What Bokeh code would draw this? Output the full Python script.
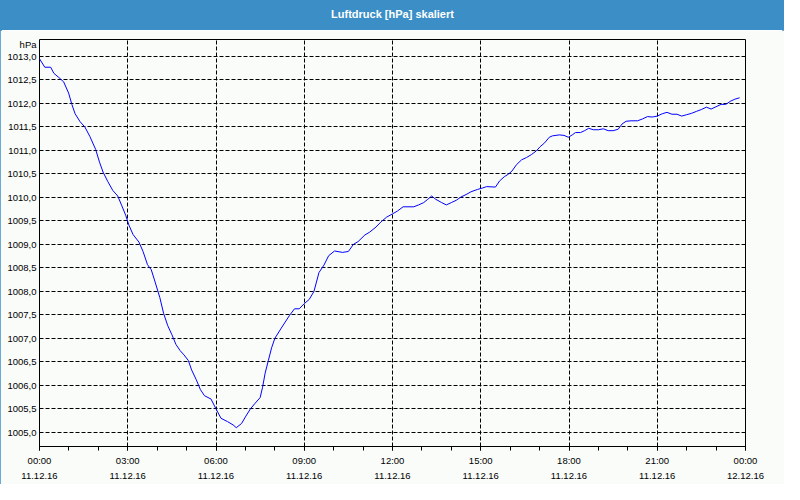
from bokeh.plotting import figure
from bokeh.layouts import column
from bokeh.models import Range1d, FixedTicker, CustomJSTickFormatter
from bokeh.core.properties import value
from bokeh.embed import file_html
from bokeh.resources import INLINE

title_text = "Luftdruck [hPa] skaliert"
unit_label = "hPa"

# time of day in hours (11.12.16 00:00 = 0)
hours = [0.00, 0.18, 0.38, 0.49, 0.66, 0.82, 0.99, 1.10, 1.21, 1.38, 1.54, 1.71,
         1.91, 2.04, 2.16, 2.32, 2.49, 2.66, 2.80, 2.93, 3.04, 3.18, 3.38, 3.52,
         3.67, 3.80, 3.94, 4.09, 4.22, 4.36, 4.50, 4.64, 4.78, 4.91, 5.06, 5.17,
         5.33, 5.47, 5.61, 5.83, 6.00, 6.17, 6.39, 6.58, 6.69, 6.87, 7.00, 7.17,
         7.33, 7.50, 7.58, 7.67, 7.78, 7.89, 8.00, 8.22, 8.50, 8.67, 8.83, 9.00,
         9.17, 9.33, 9.50, 9.67, 9.83, 10.03, 10.30, 10.50, 10.67, 10.83, 11.06,
         11.22, 11.44, 11.61, 11.80, 12.00, 12.17, 12.36, 12.72, 12.89, 13.06,
         13.20, 13.33, 13.47, 13.67, 13.83, 14.00, 14.17, 14.33, 14.50, 14.67,
         14.89, 15.06, 15.20, 15.50, 15.64, 15.80, 15.95, 16.06, 16.22, 16.39,
         16.56, 16.72, 16.89, 17.02, 17.17, 17.33, 17.44, 17.67, 17.83, 17.98,
         18.11, 18.22, 18.39, 18.53, 18.67, 18.83, 19.00, 19.17, 19.33, 19.50,
         19.67, 19.80, 19.94, 20.11, 20.33, 20.50, 20.67, 20.83, 21.00, 21.17,
         21.33, 21.50, 21.67, 21.83, 22.00, 22.17, 22.33, 22.50, 22.67, 22.83,
         23.00, 23.17, 23.33, 23.50, 23.64, 23.80]

pressure = [1012.95, 1012.77, 1012.77, 1012.64, 1012.55, 1012.46, 1012.22, 1011.98,
            1011.78, 1011.61, 1011.50, 1011.30, 1011.02, 1010.75, 1010.54, 1010.34,
            1010.15, 1010.03, 1009.82, 1009.62, 1009.41, 1009.21, 1009.05, 1008.85,
            1008.57, 1008.46, 1008.18, 1007.87, 1007.53, 1007.27, 1007.08, 1006.87,
            1006.74, 1006.65, 1006.53, 1006.33, 1006.12, 1005.91, 1005.78, 1005.71,
            1005.50, 1005.30, 1005.23, 1005.16, 1005.10, 1005.19, 1005.33, 1005.50,
            1005.62, 1005.74, 1005.95, 1006.26, 1006.53, 1006.80, 1007.00, 1007.22,
            1007.49, 1007.63, 1007.63, 1007.74, 1007.83, 1008.00, 1008.40, 1008.56,
            1008.76, 1008.86, 1008.83, 1008.85, 1009.00, 1009.06, 1009.20, 1009.26,
            1009.37, 1009.48, 1009.58, 1009.65, 1009.71, 1009.80, 1009.80, 1009.84,
            1009.89, 1009.96, 1010.03, 1009.96, 1009.89, 1009.84, 1009.89, 1009.94,
            1010.01, 1010.06, 1010.12, 1010.17, 1010.20, 1010.23, 1010.22, 1010.35,
            1010.44, 1010.50, 1010.56, 1010.70, 1010.80, 1010.85, 1010.91, 1010.99,
            1011.08, 1011.16, 1011.28, 1011.31, 1011.33, 1011.32, 1011.28, 1011.33,
            1011.38, 1011.38, 1011.42, 1011.47, 1011.44, 1011.44, 1011.46, 1011.42,
            1011.42, 1011.45, 1011.56, 1011.62, 1011.63, 1011.63, 1011.67, 1011.72,
            1011.71, 1011.73, 1011.78, 1011.81, 1011.77, 1011.77, 1011.73, 1011.76,
            1011.79, 1011.83, 1011.87, 1011.92, 1011.88, 1011.93, 1011.98, 1011.98,
            1012.05, 1012.09, 1012.12]

x_ticks = [0, 3, 6, 9, 12, 15, 18, 21, 24]
x_minor_ticks = [0, 1, 2, 3, 4, 5, 6, 7, 8, 9, 10, 11, 12, 13, 14, 15, 16, 17, 18,
                 19, 20, 21, 22, 23, 24]
x_tick_times = ["00:00", "03:00", "06:00", "09:00", "12:00", "15:00", "18:00",
                "21:00", "00:00"]
x_tick_dates = ["11.12.16", "11.12.16", "11.12.16", "11.12.16", "11.12.16",
                "11.12.16", "11.12.16", "11.12.16", "12.12.16"]
y_ticks = [1005.0, 1005.5, 1006.0, 1006.5, 1007.0, 1007.5, 1008.0, 1008.5, 1009.0,
           1009.5, 1010.0, 1010.5, 1011.0, 1011.5, 1012.0, 1012.5, 1013.0]
unit_tick = 1013.25  # where the unit label sits on the value axis

BG = "#fafcfa"
BLUE = "#3c8fc6"
FONT = "Liberation Sans"
FS = "9.5px"

# title bar
tb = figure(width=784, height=30, x_range=Range1d(0, 1), y_range=Range1d(0, 1),
            toolbar_location=None, output_backend="svg",
            x_axis_location=None, y_axis_location=None,
            background_fill_color=BLUE, border_fill_color=None,
            outline_line_color=None, min_border=0,
            styles={"background-color": BLUE})
tb.grid.visible = False
tb.text(x=[0.5], y=[0.56], text=[title_text], text_color="white",
        text_font=value(FONT), text_font_size="11px", text_font_style="bold",
        text_align="center", text_baseline="middle")

p = figure(width=784, height=454, x_range=Range1d(0, 24),
           y_range=Range1d(1004.70, 1013.36),
           toolbar_location=None, output_backend="svg",
           background_fill_color=BG, border_fill_color=BG,
           min_border_left=39, min_border_right=39, min_border_top=9,
           min_border_bottom=38)
p.outline_line_color = "black"
p.outline_line_width = 1
p.outline_line_alpha = 1

xa = p.xaxis[0]
xa.ticker = FixedTicker(ticks=x_ticks, minor_ticks=x_minor_ticks)
xa.major_label_overrides = {t: f"{a}\n{b}" for t, a, b in zip(x_ticks, x_tick_times, x_tick_dates)}
xa.major_tick_out = 4
xa.major_tick_in = 0
xa.minor_tick_out = 4
xa.minor_tick_in = 0
xa.axis_line_color = "black"
xa.major_tick_line_color = "black"
xa.minor_tick_line_color = "black"
xa.major_label_text_font = FONT
xa.major_label_text_font_size = FS
xa.major_label_text_color = "black"
xa.major_label_text_line_height = 1.4
xa.major_label_standoff = 4

ya = p.yaxis[0]
ya.ticker = FixedTicker(ticks=y_ticks + [unit_tick])
ya.formatter = CustomJSTickFormatter(
    args=dict(unit_tick=unit_tick, unit=unit_label),
    code="if (Math.abs(tick - unit_tick) < 1e-6) { return unit; } return tick.toFixed(1).replace('.', ',');")
ya.major_tick_out = 0
ya.major_tick_in = 0
ya.minor_tick_out = 0
ya.minor_tick_in = 0
ya.axis_line_color = None
ya.major_label_text_font = FONT
ya.major_label_text_font_size = FS
ya.major_label_text_color = "black"
ya.major_label_standoff = 3

p.xgrid[0].ticker = FixedTicker(ticks=x_ticks)
p.ygrid[0].ticker = FixedTicker(ticks=y_ticks)
for g in (p.xgrid[0], p.ygrid[0]):
    g.grid_line_color = "black"
    g.grid_line_dash = "4 2"
    g.grid_line_width = 1
    g.grid_line_alpha = 1

p.line(hours, pressure, line_color="#0000ff", line_width=1)

layout = column(tb, p, spacing=0,
                styles={"outline": f"2px solid {BLUE}", "outline-offset": "-2px"})
open("out.html", "w").write(file_html(layout, INLINE))
